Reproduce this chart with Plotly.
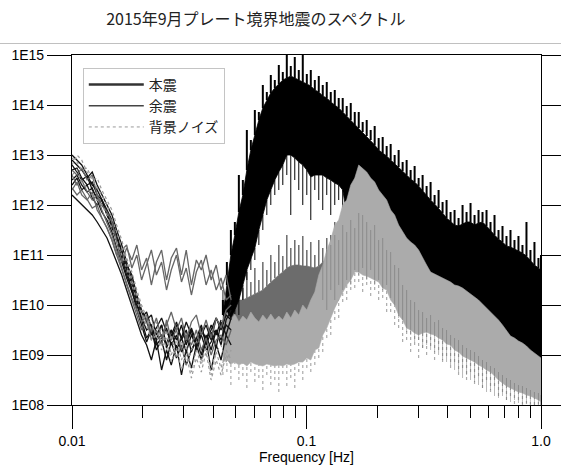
import plotly.graph_objects as go

# ---------------- data (log10 of spectral amplitude) ----------------
title_text = "2015年9月プレート境界地震のスペクトル"
legend_names = ["本震", "余震", "背景ノイズ"]

# frequency grid for the high-frequency envelopes [Hz]
hf_freq = [0.0440, 0.04576, 0.04759, 0.04949, 0.05147, 0.05353, 0.05567, 0.05790, 0.06022, 0.06263,
           0.06513, 0.06773, 0.07044, 0.07326, 0.07619, 0.07924, 0.08241, 0.08570, 0.08913, 0.09270,
           0.09641, 0.1003, 0.1043, 0.1085, 0.1128, 0.1173, 0.1220, 0.1269, 0.1320, 0.1372,
           0.1427, 0.1484, 0.1544, 0.1606, 0.1670, 0.1736, 0.1806, 0.1878, 0.1953, 0.2031,
           0.2113, 0.2197, 0.2285, 0.2376, 0.2471, 0.2570, 0.2673, 0.2780, 0.2891, 0.3007,
           0.3127, 0.3252, 0.3382, 0.3517, 0.3658, 0.3804, 0.3956, 0.4115, 0.4279, 0.4451,
           0.4629, 0.4814, 0.5006, 0.5207, 0.5415, 0.5631, 0.5857, 0.6091, 0.6335, 0.6588,
           0.6852, 0.7126, 0.7411, 0.7707, 0.8015, 0.8336, 0.8670, 0.9016, 0.9377, 0.9752, 1.0]

# main shock (本震): solid core top, spike tops, core bottom, downward spikes
main_core_top = [9.8, 10.4, 11.0, 11.4, 11.86, 12.2, 12.7, 13.1, 13.4, 13.7,
                 13.94, 14.1, 14.24, 14.34, 14.42, 14.5, 14.54, 14.58, 14.54, 14.5,
                 14.46, 14.42, 14.38, 14.3, 14.26, 14.18, 14.14, 14.06, 14.0, 13.94,
                 13.86, 13.78, 13.7, 13.6, 13.54, 13.46, 13.38, 13.3, 13.2, 13.1,
                 13.04, 12.98, 12.9, 12.82, 12.76, 12.68, 12.6, 12.52, 12.46, 12.38,
                 12.28, 12.18, 12.1, 12.02, 11.94, 11.84, 11.74, 11.66, 11.6, 11.58,
                 11.62, 11.66, 11.66, 11.6, 11.64, 11.66, 11.58, 11.48, 11.4, 11.32,
                 11.26, 11.18, 11.16, 11.12, 11.08, 11.04, 10.98, 10.88, 10.8, 10.74, 10.7]
main_spike_top = [10.1, 10.86, 11.5, 11.66, 12.6, 12.5, 13.5, 13.3, 13.9, 13.86,
                  14.4, 14.26, 14.6, 14.5, 14.8, 14.66, 15.1, 14.78, 14.96, 14.7,
                  15.1, 14.62, 14.7, 14.5, 14.58, 14.4, 14.46, 14.26, 14.3, 14.14,
                  14.14, 13.98, 14.04, 13.86, 13.86, 13.66, 13.7, 13.5, 13.58, 13.34,
                  13.36, 13.18, 13.22, 13.0, 13.1, 12.86, 12.9, 12.7, 12.78, 12.54,
                  12.6, 12.38, 12.46, 12.2, 12.3, 12.06, 12.1, 11.86, 11.9, 11.74,
                  12.0, 11.86, 12.04, 11.8, 11.9, 11.86, 11.9, 11.66, 11.8, 11.5,
                  11.58, 11.38, 11.5, 11.3, 11.38, 11.2, 11.66, 11.1, 11.26, 10.94, 11.0]
main_bot_freq = hf_freq[:31] + [0.1485, 0.1608, 0.1722, 0.1863, 0.2201, 0.2575, 0.3044,
                                0.3597, 0.4644, 0.5488, 0.6484, 0.7588, 0.8707, 1.0]
main_core_bot = [9.6, 9.66, 9.74, 9.9, 10.1, 10.4, 10.7, 10.94, 11.14, 11.5,
                 11.8, 12.1, 12.3, 12.5, 12.66, 12.8, 13.0, 13.0, 12.94, 12.86,
                 12.8, 12.7, 12.56, 12.6, 12.6, 12.6, 12.54, 12.5, 12.44, 12.4, 12.3,
                 11.84, 12.2, 12.3, 12.1, 11.6, 11.0, 10.6, 10.3, 9.9, 9.66, 9.34, 9.0, 8.8, 8.6]
main_spike_bot = [9.4, 9.5, 9.5, 9.7, 9.8, 10.1, 10.5, 10.7, 10.9, 11.2,
                  11.5, 11.8, 12.0, 12.2, 12.3, 12.4, 12.6, 11.8, 12.5, 12.3,
                  12.0, 12.2, 11.7, 12.3, 12.1, 11.9, 12.2, 11.8, 12.0, 12.1, 11.9]

# aftershock (余震) band 0.044-0.14 Hz: core top, spike tops, bottom
after_core_top = [10.0, 10.0, 10.04, 10.06, 10.1, 10.1, 10.14, 10.18, 10.22, 10.26,
                  10.3, 10.38, 10.46, 10.54, 10.6, 10.66, 10.74, 10.78, 10.8, 10.8,
                  10.78, 10.78, 10.76, 10.74, 10.78, 10.86, 10.94, 11.06, 11.2, 11.3]
after_spike_top = [10.3, 10.2, 10.46, 10.3, 10.54, 10.34, 10.66, 10.46, 10.74, 10.5,
                   10.86, 10.7, 11.0, 10.86, 11.2, 10.98, 11.4, 11.14, 11.3, 11.2,
                   11.38, 11.1, 11.26, 11.0, 11.3, 11.14, 11.34, 11.4, 11.66, 11.6]
after_bot_freq = [0.1373, 0.1140, 0.0824, 0.0651, 0.0440]
after_bot = [10.1, 9.7, 9.6, 9.5, 9.4]
# aftershock streaks seen through the noise band (hf_freq[25:])
after_streak_hi = [10.86, 11.1, 11.2, 11.4, 11.3, 11.6, 11.46, 11.7, 11.54, 11.84,
                   11.8, 11.66, 11.5, 11.6, 11.3, 11.34, 11.1, 11.06, 10.8, 10.74,
                   10.4, 10.3, 10.1, 10.06, 9.9, 9.86, 9.74, 9.8, 9.66, 9.7,
                   9.54, 9.5, 9.4, 9.34, 9.3, 9.2, 9.14, 9.1, 9.06, 8.98,
                   8.9, 8.86, 8.78, 8.74, 8.66, 8.6, 8.54, 8.5, 8.44, 8.4,
                   8.38, 8.34, 8.3, 8.26, 8.24, 8.2]
after_streak_lo = [10.1, 9.9, 10.3, 10.1, 10.4, 10.3, 10.5, 10.4, 10.7, 10.6,
                   10.74, 10.5, 10.7, 10.4, 10.5, 10.3, 10.4, 10.14, 10.0, 9.74,
                   9.7, 9.46, 9.4, 9.26, 9.3, 9.14, 9.2, 9.1, 9.06, 9.0,
                   8.9, 8.86, 8.8, 8.7, 8.66, 8.54, 8.6, 8.5, 8.46, 8.4,
                   8.34, 8.26, 8.3, 8.18, 8.14, 8.18, 8.1, 8.06, 8.1, 8.04,
                   8.02, 8.04, 8.02, 8.0, 8.02, 8.0]

# background noise (背景ノイズ) band on hf_freq
noise_top = [9.74, 9.86, 9.7, 9.82, 9.66, 9.78, 9.7, 9.86, 9.74, 9.66,
             9.8, 9.7, 9.82, 9.7, 9.78, 9.7, 9.86, 9.74, 9.9, 9.8,
             10.0, 9.9, 10.1, 10.26, 10.6, 10.8, 11.1, 11.3, 11.6, 11.7,
             12.0, 12.1, 12.4, 12.54, 12.8, 12.74, 12.66, 12.54, 12.46, 12.3,
             12.2, 12.1, 11.9, 11.8, 11.6, 11.46, 11.34, 11.26, 11.2, 11.1,
             10.94, 10.8, 10.66, 10.62, 10.58, 10.54, 10.5, 10.46, 10.4, 10.38,
             10.34, 10.28, 10.22, 10.16, 10.1, 10.02, 9.94, 9.86, 9.78, 9.7,
             9.6, 9.5, 9.38, 9.34, 9.28, 9.24, 9.18, 9.1, 9.04, 8.98, 8.94]
noise_core_bot = [8.86, 8.9, 8.82, 8.86, 8.8, 8.84, 8.78, 8.86, 8.82, 8.8,
                  8.78, 8.82, 8.8, 8.78, 8.8, 8.78, 8.82, 8.8, 8.82, 8.86,
                  8.86, 8.94, 8.9, 9.1, 9.14, 9.4, 9.54, 9.74, 9.94, 10.1,
                  10.26, 10.4, 10.5, 10.66, 10.66, 10.6, 10.58, 10.54, 10.5, 10.46,
                  10.34, 10.3, 10.1, 10.0, 9.8, 9.7, 9.54, 9.5, 9.44, 9.4,
                  9.44, 9.46, 9.42, 9.4, 9.34, 9.3, 9.22, 9.2, 9.1, 9.06,
                  8.98, 8.94, 8.9, 8.86, 8.8, 8.76, 8.7, 8.66, 8.58, 8.5,
                  8.44, 8.38, 8.34, 8.3, 8.26, 8.24, 8.2, 8.18, 8.14, 8.1, 8.06]
noise_spike_bot = [8.6, 8.66, 8.4, 8.7, 8.5, 8.58, 8.34, 8.66, 8.46, 8.54,
                   8.3, 8.6, 8.4, 8.5, 8.26, 8.62, 8.38, 8.54, 8.34, 8.66,
                   8.5, 8.74, 8.66, 8.8, 8.94, 9.06, 9.34, 9.4, 9.7, 9.74,
                   10.06, 10.1, 10.3, 10.34, 10.46, 10.26, 10.4, 10.18, 10.3, 10.1,
                   10.14, 9.86, 9.86, 9.6, 9.54, 9.26, 9.3, 9.06, 9.2, 8.94,
                   9.14, 9.0, 9.18, 8.9, 9.1, 8.86, 8.98, 8.74, 8.86, 8.6,
                   8.74, 8.5, 8.66, 8.42, 8.58, 8.34, 8.5, 8.26, 8.38, 8.18,
                   8.26, 8.1, 8.18, 8.02, 8.1, 8.0, 8.02, 8.0, 8.0, 8.0, 8.0]

# low-frequency individual spectra
lf_freq = [0.0100, 0.0105, 0.0110, 0.0116, 0.0122, 0.0128, 0.0134, 0.0141, 0.0148, 0.0155,
           0.0163, 0.0171, 0.0180, 0.0189, 0.0198, 0.0208, 0.0218, 0.0229, 0.0241, 0.0253,
           0.0265, 0.0279, 0.0293, 0.0307, 0.0323, 0.0339, 0.0356, 0.0373, 0.0392, 0.0412,
           0.0432, 0.0454, 0.0477]
main_lf = [
    [12.9, 12.8, 12.7, 12.54, 12.66, 12.4, 12.2, 12.0, 11.8, 11.5, 11.2, 10.86, 10.5, 10.1, 9.74, 9.5,
     9.6, 9.3, 9.4, 9.2, 9.5, 9.1, 9.34, 9.06, 9.4, 9.2, 9.5, 9.3, 9.6, 9.4, 9.7],
    [12.4, 12.54, 12.3, 12.4, 12.14, 12.0, 12.1, 11.8, 11.54, 11.3, 11.0, 10.7, 10.3, 9.9, 9.6, 9.26,
     9.5, 9.1, 9.3, 8.9, 9.26, 8.94, 9.2, 8.8, 9.1, 9.3, 9.0, 9.4, 9.1, 9.5, 9.2, 9.7, 9.9],
    [13.0, 12.9, 12.8, 12.6, 12.4, 12.3, 12.1, 11.9, 11.7, 11.4, 11.1, 10.8, 10.6, 10.2, 9.9, 9.7,
     9.8, 9.4, 9.6, 9.2, 9.5, 9.3, 9.6, 9.2, 9.5, 9.1, 9.4, 9.6, 9.3, 9.74, 9.5, 9.8, 9.7],
    [12.2, 12.1, 12.0, 11.9, 11.8, 11.66, 11.5, 11.34, 11.1, 10.86, 10.6, 10.3, 10.0, 9.7, 9.4, 9.2,
     8.9, 9.3, 8.7, 9.1, 8.8, 9.2, 8.6, 9.1, 8.74, 9.2, 8.9, 9.3, 8.7, 9.2, 8.9, 9.4, 9.2],
    [12.8, 12.66, 12.5, 12.58, 12.3, 12.14, 12.0, 11.86, 11.6, 11.34, 11.06, 10.74, 10.4, 10.1, 9.86, 9.66,
     9.4, 9.54, 9.74, 9.46, 9.3, 9.6, 9.34, 9.66, 9.4, 9.2, 9.54, 9.3, 9.5, 9.74, 9.54, 9.86, 10.1],
    [12.5, 12.6, 12.4, 12.26, 12.34, 12.1, 11.86, 11.7, 11.46, 11.14, 10.86, 10.54, 10.26, 10.0, 9.74, 9.86,
     9.54, 9.3, 9.6, 9.14, 9.4, 9.66, 9.3, 9.5, 9.06, 9.34, 9.6, 9.2, 9.46, 9.14, 9.66, 9.4, 9.74],
    [12.7, 12.74, 12.54, 12.4, 12.46, 12.2, 12.1, 11.8, 11.6, 11.26, 10.94, 10.6, 10.34, 10.06, 9.7, 9.34,
     9.5, 9.2, 9.34, 9.54, 9.2, 9.4, 9.06, 9.3, 9.54, 9.26, 9.4, 9.1, 9.26, 9.5, 9.3, 9.6, 9.5],
]
after_lf = [
    [12.7, 12.6, 12.74, 12.5, 12.6, 12.2, 12.0, 11.86, 11.66, 11.3, 10.86, 11.14, 10.9, 11.2, 10.7, 10.94,
     10.4, 10.86, 11.1, 10.5, 10.94, 11.14, 10.6, 11.1, 10.4, 10.9, 10.7, 11.0, 10.5, 10.8, 10.3, 10.6, 10.1],
    [12.3, 12.46, 12.2, 12.1, 12.26, 11.9, 11.74, 11.54, 11.3, 11.0, 11.1, 11.2, 10.74, 11.0, 10.5, 10.8,
     11.1, 10.6, 10.86, 10.3, 10.7, 11.0, 10.46, 10.74, 10.2, 10.66, 10.9, 10.4, 10.7, 10.3, 10.54, 10.1, 10.2],
    [12.6, 12.4, 12.5, 12.26, 12.1, 12.2, 11.9, 11.66, 11.4, 11.1, 10.74, 10.4, 10.1, 9.8, 9.5, 9.74,
     9.3, 9.5, 9.2, 9.7, 9.3, 9.5, 9.1, 9.4, 9.2, 9.5, 9.1, 9.34, 9.0, 9.3, 9.4, 9.2, 9.5],
    [12.34, 12.2, 12.3, 12.1, 11.94, 12.0, 11.74, 11.54, 11.3, 11.0, 10.7, 10.46, 10.14, 9.9, 9.66, 9.8,
     9.46, 9.74, 9.34, 9.6, 9.86, 9.5, 9.74, 9.3, 9.66, 9.8, 9.4, 9.7, 9.34, 9.74, 9.54, 9.9, 10.0],
]
noise_lf = [
    [12.8, 13.0, 12.9, 12.66, 12.5, 12.54, 12.3, 12.1, 11.9, 11.6, 11.3, 10.94, 10.66, 10.3, 10.0, 9.74,
     9.5, 9.66, 9.2, 9.5, 9.0, 9.3, 8.9, 9.2, 8.66, 9.1, 8.8, 9.2, 8.6, 9.06, 8.74, 9.1, 8.9],
    [12.6, 12.7, 12.46, 12.34, 12.2, 12.1, 12.0, 11.8, 11.54, 11.26, 11.0, 10.74, 10.4, 10.1, 9.8, 9.6,
     9.3, 9.4, 9.1, 9.34, 8.86, 9.14, 8.7, 9.0, 8.54, 8.94, 8.66, 9.06, 8.5, 8.9, 8.6, 9.0, 8.8],
    [12.94, 12.86, 12.7, 12.74, 12.5, 12.34, 12.2, 12.0, 11.74, 11.46, 11.14, 10.86, 10.5, 10.18, 9.9, 9.6,
     9.74, 9.34, 9.54, 9.1, 9.4, 8.94, 9.26, 8.8, 9.1, 9.3, 8.9, 9.14, 8.74, 9.06, 9.2, 8.86, 9.1],
]

y_exp = [8, 9, 10, 11, 12, 13, 14, 15]
y_ticktext = ["1E08", "1E09", "1E10", "1E11", "1E12", "1E13", "1E14", "1E15"]
x_tickvals = [0.01, 0.1, 1.0]
x_ticktext = ["0.01", "0.1", "1.0"]
x_minor = [0.02, 0.03, 0.04, 0.05, 0.06, 0.07, 0.08, 0.09, 0.2, 0.3, 0.4, 0.5, 0.6, 0.7, 0.8, 0.9]


def lin(v):
    return [10 ** e for e in v]


def band(fx_top, top, fx_bot, bot):
    return list(fx_top) + list(fx_bot)[::-1], lin(top) + lin(bot)[::-1]


def segments(fx, lo, hi):
    xs, ys = [], []
    for f, a, b in zip(fx, lo, hi):
        xs += [f, f, None]
        ys += [10 ** a, 10 ** b, None]
    return xs, ys


C_MAIN = "#000000"
C_AFTER = "#6c6c6c"
C_NOISE = "#ababab"
skip = dict(showlegend=False, hoverinfo="skip")

fig = go.Figure()

# aftershock band + spikes
bx, by = band(hf_freq[:30], after_core_top, after_bot_freq[::-1], after_bot[::-1])
fig.add_trace(go.Scatter(x=bx, y=by, mode="lines", fill="toself", fillcolor=C_AFTER,
                         line=dict(color=C_AFTER, width=0.6), **skip))
sx, sy = segments(hf_freq[:30], after_core_top, after_spike_top)
fig.add_trace(go.Scatter(x=sx, y=sy, mode="lines", line=dict(color=C_AFTER, width=1.5), **skip))

# main shock band + spikes
bx, by = band(hf_freq, main_core_top, main_bot_freq, main_core_bot)
fig.add_trace(go.Scatter(x=bx, y=by, mode="lines", fill="toself", fillcolor=C_MAIN,
                         line=dict(color=C_MAIN, width=0.8), **skip))
sx, sy = segments(hf_freq, main_core_top, main_spike_top)
fig.add_trace(go.Scatter(x=sx, y=sy, mode="lines", line=dict(color=C_MAIN, width=2), **skip))
sx, sy = segments(hf_freq[:31], main_spike_bot, main_core_bot[:31])
fig.add_trace(go.Scatter(x=sx, y=sy, mode="lines", line=dict(color=C_MAIN, width=1), **skip))

# noise band + downward spikes
bx, by = band(hf_freq, noise_top, hf_freq, noise_core_bot)
fig.add_trace(go.Scatter(x=bx, y=by, mode="lines", fill="toself", fillcolor=C_NOISE,
                         line=dict(color=C_NOISE, width=0.6), **skip))
sx, sy = segments(hf_freq, noise_spike_bot, noise_core_bot)
fig.add_trace(go.Scatter(x=sx, y=sy, mode="lines", line=dict(color=C_NOISE, width=1.2, dash="dot"), **skip))

# aftershock streaks over the noise band
sx, sy = segments(hf_freq[25:], after_streak_lo, after_streak_hi)
fig.add_trace(go.Scatter(x=sx, y=sy, mode="lines", line=dict(color="#666666", width=1),
                         opacity=0.45, **skip))

# low-frequency lines
for v in main_lf:
    fig.add_trace(go.Scatter(x=lf_freq[:len(v)], y=lin(v), mode="lines",
                             line=dict(color="#111111", width=1.3), **skip))
for v in after_lf:
    fig.add_trace(go.Scatter(x=lf_freq[:len(v)], y=lin(v), mode="lines",
                             line=dict(color="#666666", width=1.3), **skip))
for v in noise_lf:
    fig.add_trace(go.Scatter(x=lf_freq[:len(v)], y=lin(v), mode="lines",
                             line=dict(color="#9a9a9a", width=1.2, dash="dot"), **skip))

# legend entries
fig.add_trace(go.Scatter(x=[None], y=[None], mode="lines", name=legend_names[0],
                         line=dict(color="#333333", width=2.5)))
fig.add_trace(go.Scatter(x=[None], y=[None], mode="lines", name=legend_names[1],
                         line=dict(color="#444444", width=1.3)))
fig.add_trace(go.Scatter(x=[None], y=[None], mode="lines", name=legend_names[2],
                         line=dict(color="#999999", width=1, dash="dot")))

axis_font = dict(family="Liberation Sans, Arial, sans-serif", size=14, color="#000")

fig.update_layout(
    width=561, height=466,
    margin=dict(l=72, r=20, t=55, b=61, autoexpand=False),
    paper_bgcolor="white", plot_bgcolor="white",
    title=dict(text=title_text, x=0.392, xref="paper", xanchor="center",
               y=1 - 19 / 466, yref="container", yanchor="middle",
               font=dict(family="Noto Sans CJK JP", size=16, color="#222")),
    showlegend=True,
    legend=dict(x=0.023, y=0.963, xanchor="left", yanchor="top",
                bgcolor="white", bordercolor="#c4c4c4", borderwidth=1,
                font=dict(family="Noto Sans CJK JP", size=14, color="#222"),
                itemwidth=55, tracegroupgap=0),
    xaxis=dict(type="log", range=[-2, 0], showgrid=False, zeroline=False, automargin=False,
               showline=True, linecolor="#000", linewidth=1.2, mirror=True,
               ticks="outside", ticklen=23, tickcolor="#000", tickwidth=1.2,
               tickmode="array", tickvals=x_tickvals, ticktext=x_ticktext,
               tickfont=axis_font,
               minor=dict(ticks="outside", ticklen=12, tickcolor="#000", tickwidth=1,
                          tickmode="array", tickvals=x_minor, showgrid=False),
               title=dict(text="Frequency [Hz]", font=axis_font, standoff=2)),
    yaxis=dict(type="log", range=[8, 15], showgrid=False, zeroline=False, automargin=False,
               showline=True, linecolor="#000", linewidth=1.2, mirror="ticks",
               ticks="outside", ticklen=24, tickcolor="#000", tickwidth=1.2,
               tickmode="array", tickvals=[10 ** e for e in y_exp], ticktext=y_ticktext,
               tickfont=axis_font),
    shapes=[dict(type="line", xref="paper", yref="paper",
                 x0=-72 / 469, x1=489 / 469, y0=(405 - 43.5) / 350, y1=(405 - 43.5) / 350,
                 line=dict(color="#c0c0c0", width=1))],
)

fig.write_html("out.html")
